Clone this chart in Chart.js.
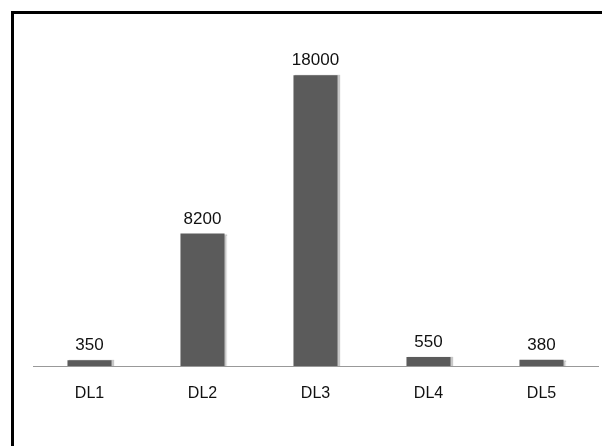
<!DOCTYPE html>
<html>
<head>
<meta charset="utf-8">
<script src="https://cdn.jsdelivr.net/npm/chart.js@4"></script>
<style>
html,body{margin:0;padding:0;background:#fff;overflow:hidden;}
#wrap{position:absolute;left:0;top:0;width:602px;height:446px;}
#frame{position:absolute;left:11px;top:11px;width:700px;height:600px;border-left:3px solid #000;border-top:3px solid #000;box-sizing:border-box;}
canvas{position:absolute;left:0;top:0;}
</style>
</head>
<body>
<div id="wrap">
<div id="frame"></div>
<canvas id="c" width="602" height="446"></canvas>
</div>
<script>
const categories = ["DL1", "DL2", "DL3", "DL4", "DL5"];
const values = [350, 8200, 18000, 550, 380];
const valueLabels = ["350", "8200", "18000", "550", "380"];

const labelPlugin = {
  id: 'valueLabels',
  afterDatasetsDraw(chart) {
    const ctx = chart.ctx;
    const meta = chart.getDatasetMeta(0);
    ctx.save();
    ctx.font = '17px "Liberation Sans", Arial, sans-serif';
    ctx.fillStyle = '#111';
    ctx.textAlign = 'center';
    ctx.textBaseline = 'alphabetic';
    meta.data.forEach((bar, i) => {
      ctx.fillText(valueLabels[i], bar.x, bar.y - 10);
    });
    ctx.restore();
  }
};

const shadowPlugin = {
  id: 'barShadow',
  beforeDatasetsDraw(chart) {
    const ctx = chart.ctx;
    ctx.save();
    ctx.shadowColor = 'rgba(0,0,0,0.22)';
    ctx.shadowOffsetX = 2;
    ctx.shadowOffsetY = 0;
    ctx.shadowBlur = 1;
  },
  afterDatasetsDraw(chart) {
    chart.ctx.restore();
  }
};

new Chart(document.getElementById('c'), {
  type: 'bar',
  data: {
    labels: categories,
    datasets: [{
      data: values,
      backgroundColor: '#5b5b5b',
      borderWidth: 0,
      categoryPercentage: 1,
      barPercentage: 0.39
    }]
  },
  options: {
    responsive: false,
    animation: false,
    events: [],
    layout: { padding: { left: 33, right: 4, top: 43, bottom: 0 } },
    plugins: { legend: { display: false }, tooltip: { enabled: false } },
    scales: {
      x: {
        grid: { display: false, drawTicks: false },
        border: { display: true, color: '#999', width: 1 },
        ticks: {
          color: '#111',
          padding: 18,
          font: { family: '"Liberation Sans", Arial, sans-serif', size: 16 }
        },
        afterFit(scale) { scale.height = 80; }
      },
      y: {
        display: false,
        min: 0,
        max: 20000
      }
    }
  },
  plugins: [shadowPlugin, labelPlugin]
});
</script>
</body>
</html>
